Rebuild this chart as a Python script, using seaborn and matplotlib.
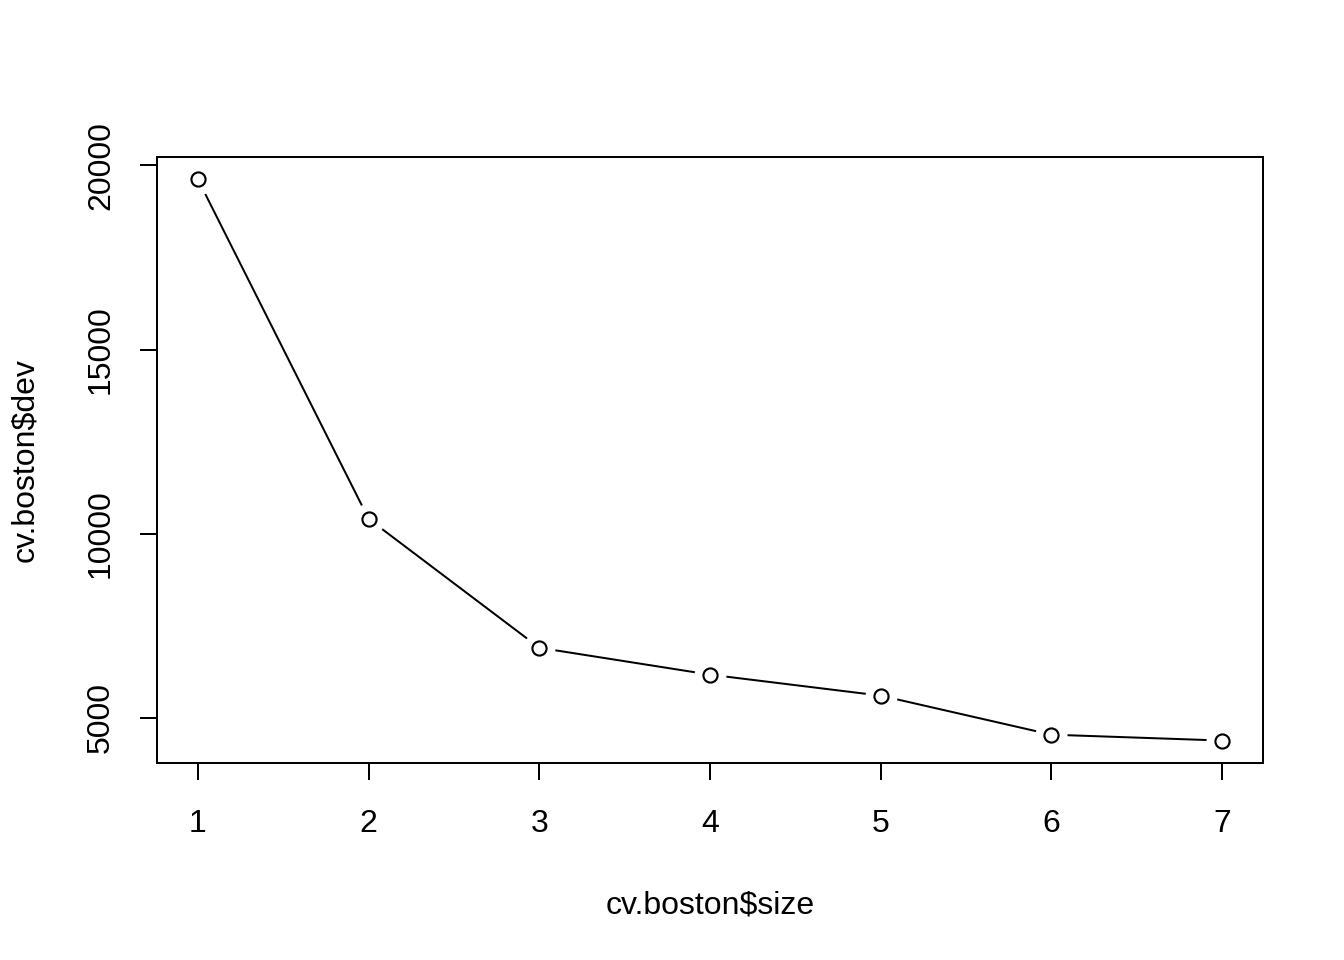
import numpy as np
import pandas as pd
import matplotlib
matplotlib.use("Agg")
import matplotlib.pyplot as plt
import seaborn as sns

# values
size = [1, 2, 3, 4, 5, 6, 7]
dev = [19620, 10400, 6900, 6170, 5600, 4540, 4380]
y_ticks = [5000, 10000, 15000, 20000]

df = pd.DataFrame({'size': size, 'dev': dev})

sns.set_style('white')
plt.rcParams['font.family'] = ['Liberation Sans', 'DejaVu Sans']
plt.rcParams['text.color'] = 'black'
plt.rcParams['axes.labelcolor'] = 'black'
plt.rcParams['xtick.color'] = 'black'
plt.rcParams['ytick.color'] = 'black'

fig = plt.figure(figsize=(7, 5), dpi=192)
ax = fig.add_axes([157 / 1344, 1 - 763 / 960, (1263 - 157) / 1344, (763 - 157) / 960])

# line, then white discs to open gaps (R type="b"), then open circles
sns.lineplot(data=df, x='size', y='dev', color='black', linewidth=0.75, ax=ax, zorder=1)
ax.plot(df['size'], df['dev'], linestyle='none', marker='o', markersize=11,
        markerfacecolor='white', markeredgecolor='white', zorder=2)
ax.plot(df['size'], df['dev'], linestyle='none', marker='o', markersize=5.3,
        markerfacecolor='white', markeredgecolor='black', markeredgewidth=0.8, zorder=3)

pad_x = (max(size) - min(size)) * 0.04
pad_y = (max(dev) - min(dev)) * 0.04
ax.set_xlim(min(size) - pad_x, max(size) + pad_x)
ax.set_ylim(min(dev) - pad_y, max(dev) + pad_y)
ax.set_xticks(size)
ax.set_yticks(y_ticks)
ax.set_yticklabels([str(t) for t in y_ticks], rotation=90, va='center')

for s in ax.spines.values():
    s.set_visible(True)
    s.set_color('black')
    s.set_linewidth(0.75)

ax.tick_params(axis='both', direction='out', length=6.4, width=0.75, color='black',
               labelcolor='black', labelsize=12, bottom=True, left=True)
ax.tick_params(axis='x', pad=11)
ax.tick_params(axis='y', pad=9)

ax.set_xlabel('cv.boston\\$size', fontsize=12, labelpad=19, color='black')
ax.set_ylabel('cv.boston\\$dev', fontsize=12, labelpad=17, color='black')

fig.savefig('out.png', dpi=192, facecolor='white')
